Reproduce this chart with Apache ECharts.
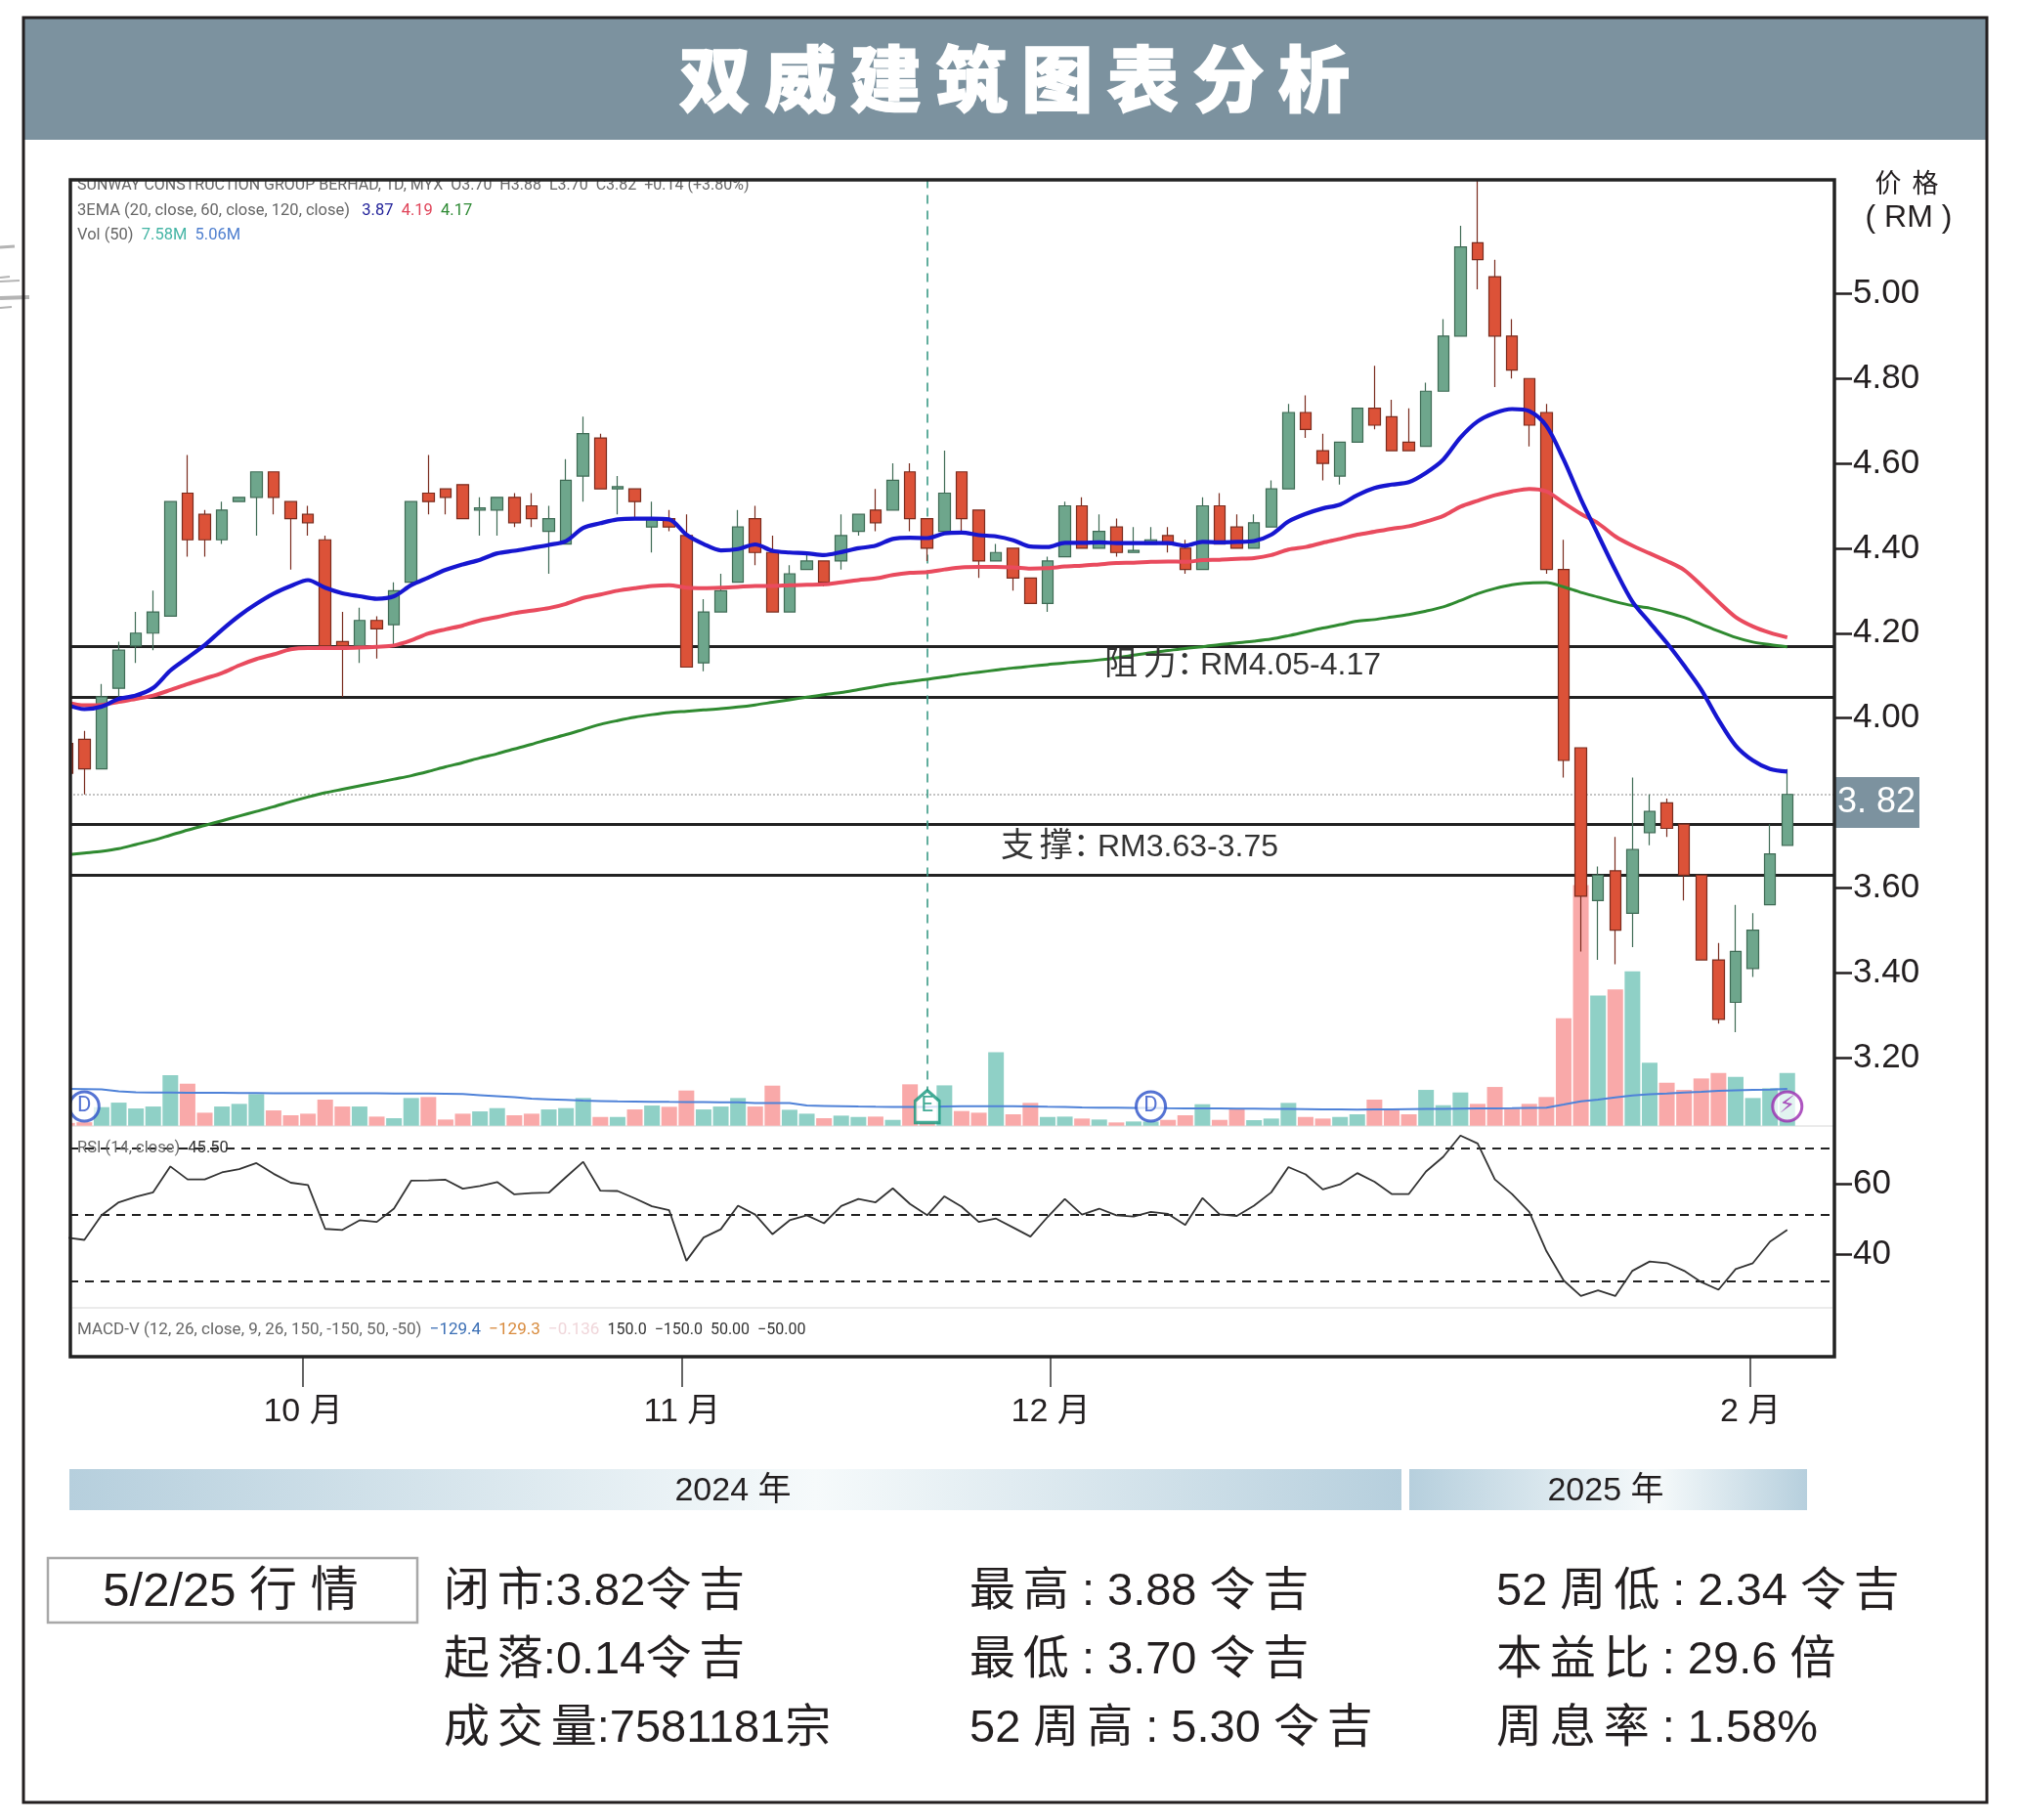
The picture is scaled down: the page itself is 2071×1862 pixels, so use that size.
<!DOCTYPE html>
<html>
<head>
<meta charset="utf-8">
<title>双威建筑图表分析</title>
<script src="https://cdn.jsdelivr.net/npm/echarts@6/dist/echarts.min.js"></script>
<style>
  html, body { margin: 0; padding: 0; background: #fff; }
  #chart { width: 2071px; height: 1862px; }
</style>
</head>
<body>
<div id="chart"></div>
<script>
// values, x is the trading day counted from the left edge
const opens = [3.94,3.95,3.88,4.07,4.17,4.20,4.24,4.53,4.48,4.42,4.51,4.52,4.58,4.51,4.48,4.42,4.18,4.17,4.23,4.22,
  4.32,4.53,4.54,4.55,4.49,4.49,4.52,4.50,4.44,4.41,4.57,4.66,4.54,4.54,4.45,4.47,4.43,4.13,4.25,4.32,
  4.47,4.39,4.25,4.35,4.37,4.37,4.44,4.49,4.49,4.58,4.47,4.44,4.58,4.49,4.37,4.40,4.33,4.27,4.38,4.50,
  4.40,4.45,4.39,4.41,4.43,4.40,4.35,4.50,4.45,4.40,4.45,4.54,4.72,4.63,4.57,4.65,4.73,4.71,4.65,4.64,
  4.77,4.90,5.12,5.04,4.90,4.80,4.72,4.35,3.93,3.57,3.64,3.54,3.73,3.80,3.75,3.63,3.43,3.33,3.41,3.56,3.70]
const closes = [3.87,3.88,4.05,4.16,4.20,4.25,4.51,4.42,4.42,4.49,4.52,4.58,4.52,4.47,4.46,4.17,4.17,4.23,4.21,4.30,
  4.51,4.51,4.52,4.47,4.495,4.52,4.46,4.47,4.47,4.56,4.67,4.54,4.545,4.51,4.47,4.45,4.12,4.25,4.30,4.45,
  4.39,4.25,4.34,4.37,4.32,4.43,4.48,4.46,4.56,4.47,4.40,4.53,4.47,4.37,4.39,4.33,4.27,4.37,4.50,4.40,
  4.44,4.39,4.395,4.42,4.41,4.35,4.50,4.41,4.40,4.46,4.54,4.72,4.68,4.60,4.65,4.73,4.69,4.63,4.63,4.77,
  4.90,5.11,5.08,4.90,4.82,4.69,4.35,3.90,3.58,3.63,3.50,3.69,3.78,3.74,3.63,3.43,3.29,3.45,3.50,3.68,3.82]
const lows = [3.85,3.82,3.88,4.05,4.13,4.16,4.24,4.38,4.38,4.41,4.51,4.43,4.48,4.35,4.43,4.17,4.05,4.13,4.14,4.17,
  4.31,4.48,4.48,4.47,4.43,4.43,4.45,4.45,4.34,4.41,4.51,4.54,4.48,4.47,4.39,4.44,4.12,4.11,4.25,4.32,
  4.36,4.25,4.25,4.35,4.31,4.35,4.43,4.44,4.49,4.44,4.37,4.44,4.44,4.33,4.37,4.30,4.27,4.25,4.38,4.40,
  4.40,4.38,4.39,4.41,4.39,4.34,4.35,4.41,4.40,4.40,4.45,4.54,4.66,4.56,4.55,4.65,4.68,4.63,4.63,4.64,
  4.77,4.90,5.01,4.78,4.80,4.64,4.34,3.86,3.45,3.43,3.42,3.46,3.70,3.72,3.57,3.43,3.28,3.26,3.39,3.56,3.70]
const highs = [3.96,3.97,4.08,4.18,4.25,4.30,4.51,4.62,4.49,4.51,4.52,4.58,4.58,4.51,4.50,4.43,4.25,4.26,4.24,4.32,
  4.51,4.62,4.54,4.55,4.52,4.52,4.53,4.53,4.50,4.61,4.71,4.67,4.57,4.54,4.51,4.49,4.48,4.28,4.34,4.49,
  4.50,4.43,4.36,4.39,4.37,4.48,4.48,4.54,4.60,4.60,4.47,4.63,4.58,4.49,4.41,4.40,4.33,4.38,4.51,4.52,
  4.48,4.47,4.45,4.45,4.45,4.42,4.52,4.53,4.48,4.48,4.56,4.74,4.76,4.67,4.65,4.73,4.83,4.75,4.73,4.79,
  4.94,5.16,5.30,5.08,4.94,4.80,4.74,4.42,3.93,3.65,3.72,3.86,3.82,3.81,3.75,3.63,3.47,3.56,3.54,3.75,3.88]
const ema20 = [4.031,4.021,4.027,4.045,4.053,4.071,4.112,4.142,4.172,4.208,4.241,4.269,4.293,4.311,4.325,4.307,4.294,4.287,4.281,4.287,
  4.313,4.331,4.349,4.362,4.373,4.388,4.394,4.401,4.408,4.417,4.448,4.459,4.468,4.470,4.470,4.468,4.432,4.410,4.395,4.398,
  4.409,4.394,4.390,4.388,4.384,4.391,4.400,4.406,4.422,4.425,4.424,4.435,4.437,4.431,4.428,4.419,4.404,4.403,4.413,4.413,
  4.414,4.412,4.412,4.412,4.412,4.406,4.415,4.414,4.415,4.417,4.432,4.463,4.481,4.494,4.503,4.525,4.542,4.550,4.556,4.578,
  4.609,4.661,4.699,4.719,4.728,4.723,4.688,4.609,4.516,4.432,4.349,4.274,4.225,4.177,4.124,4.067,3.996,3.935,3.900,3.880,3.874]
const ema60 = [4.036,4.030,4.031,4.038,4.045,4.053,4.066,4.080,4.093,4.106,4.124,4.139,4.150,4.162,4.165,4.165,4.165,4.166,4.168,4.171,
  4.183,4.199,4.209,4.218,4.230,4.238,4.247,4.253,4.259,4.269,4.283,4.291,4.300,4.306,4.311,4.313,4.307,4.306,4.307,4.309,
  4.311,4.311,4.313,4.314,4.315,4.320,4.325,4.329,4.337,4.342,4.344,4.350,4.355,4.356,4.356,4.355,4.352,4.353,4.357,4.359,
  4.362,4.365,4.366,4.368,4.369,4.368,4.372,4.373,4.375,4.377,4.384,4.397,4.403,4.413,4.422,4.432,4.439,4.446,4.452,4.463,
  4.476,4.498,4.512,4.525,4.534,4.540,4.534,4.507,4.481,4.459,4.428,4.406,4.388,4.370,4.349,4.313,4.274,4.238,4.216,4.201,4.190]
const ema120 = [3.678,3.682,3.686,3.692,3.702,3.712,3.724,3.736,3.747,3.758,3.769,3.780,3.791,3.803,3.814,3.824,3.832,3.840,3.848,3.856,
  3.864,3.874,3.885,3.895,3.906,3.916,3.927,3.938,3.950,3.961,3.973,3.985,3.994,4.002,4.008,4.013,4.016,4.019,4.022,4.026,
  4.031,4.037,4.043,4.049,4.055,4.060,4.067,4.074,4.081,4.086,4.091,4.097,4.103,4.108,4.113,4.118,4.122,4.126,4.130,4.133,
  4.137,4.142,4.148,4.154,4.159,4.164,4.168,4.173,4.177,4.181,4.186,4.194,4.203,4.212,4.220,4.228,4.232,4.238,4.244,4.252,
  4.262,4.277,4.293,4.305,4.314,4.318,4.319,4.309,4.296,4.285,4.274,4.265,4.259,4.249,4.237,4.221,4.205,4.190,4.179,4.173,4.168]
const volumes = [0.4,0.5,2.67,3.32,2.48,2.76,7.26,6.04,1.87,2.76,3.14,4.54,2.2,1.5,1.73,3.75,2.76,2.76,1.31,1.08,
  3.98,4.12,0.89,1.73,2.06,2.53,1.5,1.73,2.34,2.53,3.98,1.26,1.26,2.34,2.9,2.72,5.06,2.34,2.76,3.98,
  2.76,5.76,2.29,1.73,1.08,1.45,1.26,1.31,0.84,5.95,0.47,5.8,2.11,1.87,10.56,1.64,3.28,1.26,1.31,1.03,
  0.89,0.47,0.61,0.6,0.84,1.5,3.09,0.84,2.48,0.8,1.03,3.28,1.26,1.03,1.26,1.64,3.75,2.34,1.64,5.15,
  2.95,4.78,3.14,5.57,2.43,3.14,4.12,15.45,34.6,18.7,19.6,22.2,9.04,6.18,5.15,6.79,7.58,7.02,3.98,5.38,7.58]
const volumeMa = [5.29,5.27,5.24,4.95,4.8,4.78,4.78,4.75,4.72,4.72,4.7,4.7,4.68,4.68,4.68,4.68,4.66,4.66,4.66,4.64,
  4.64,4.62,4.6,4.55,4.4,4.25,4.1,3.9,3.8,3.7,3.6,3.55,3.5,3.48,3.45,3.42,3.4,3.4,3.38,3.38,
  3.25,3.25,3.25,2.9,2.85,2.8,2.75,2.72,2.7,2.68,2.68,2.78,2.8,2.8,2.8,2.8,2.78,2.72,2.68,2.62,
  2.6,2.58,2.56,2.55,2.52,2.5,2.5,2.48,2.46,2.45,2.42,2.4,2.38,2.36,2.34,2.32,2.34,2.36,2.38,2.4,
  2.42,2.45,2.48,2.5,2.52,2.55,2.58,3.04,3.51,3.75,4.07,4.35,4.54,4.63,4.78,4.87,5.0,5.1,5.15,5.2,5.29]
const rsi = [43.2,42.5,49.9,53.8,55.5,56.8,64.6,60.7,60.7,62.8,63.8,65.6,62.4,59.7,59.0,45.8,45.5,48.4,47.9,51.9,
  60.3,60.4,60.6,57.9,58.7,59.9,56.2,56.6,56.7,61.4,66.0,57.3,57.2,55.0,52.6,51.4,36.2,43.2,45.7,52.8,
  50.1,44.2,48.4,49.9,47.5,52.7,54.8,53.8,58.0,53.3,49.9,55.6,52.5,47.9,48.9,46.2,43.5,49.4,54.8,50.1,
  51.9,49.9,49.5,50.9,50.3,47.0,55.1,50.2,49.7,52.8,56.8,64.4,62.2,57.7,59.2,62.6,60.0,56.3,56.3,63.1,
  67.5,73.9,71.5,60.7,56.3,50.9,39.1,30.3,25.6,27.3,25.6,33.2,36.0,35.5,33.2,29.8,27.5,33.7,35.5,42.0,45.5]

const priceTicks = [5.0, 4.8, 4.6, 4.4, 4.2, 4.0, 3.6, 3.4, 3.2]
const rsiTicks = [60, 40]
const rsiLevels = [70, 50, 30]
const priceLevels = [4.17, 4.05, 3.75, 3.63]
const lastPrice = 3.82
const monthTicks = [13.71, 35.75, 57.18, 97.86]
const monthLabels = ['10 月', '11 月', '12 月', '2 月']
const eventDays = [1, 50, 63, 100]
const eventLabels = ['D', 'E', 'D', '\u26a1']

const legendLine1 = 'SUNWAY CONSTRUCTION GROUP BERHAD, 1D, MYX  O3.70  H3.88  L3.70  C3.82  +0.14 (+3.80%)'
const statsA = ['闭市:3.82令吉', '起落:0.14令吉', '成交量:7581181宗']
const statsB = ['最高 : 3.88 令吉', '最低 : 3.70 令吉', '52 周高 : 5.30 令吉']
const statsC = ['52 周低 : 2.34 令吉', '本益比 : 29.6 倍', '周息率 : 1.58%']

const LATIN = '"Liberation Sans","Noto Sans CJK SC",sans-serif'
const SMALL = 'Roboto,"Noto Sans",sans-serif'
const INK = '#231f20'
const SLATE = '#7c929f'
const UP = '#6ea68c', DOWN = '#dc5238'
const X_MIN = 0.13, X_MAX = 102.74

// hair space between CJK glyphs, the canvas text has no letter spacing
function spaced (s) {
  return s.replace(/([\u4e00-\u9fff])(?=[\u4e00-\u9fff])/g, '$1\u200a\u200a')
}

function text (str, x, y, size, extra) {
  return {
    type: 'text', x: x, y: y, z: 40,
    style: Object.assign({
      text: str, fontSize: size, fontFamily: LATIN, fill: INK,
      textAlign: 'left', textVerticalAlign: 'middle'
    }, extra || {})
  }
}

function yearBar (x, w, whiteAt) {
  return {
    type: 'rect', z: 1, shape: { x: x, y: 1503, width: w, height: 42 },
    style: {
      fill: new echarts.graphic.LinearGradient(0, 0, 1, 0, [
        { offset: 0, color: '#b6cfdd' },
        { offset: whiteAt, color: '#f6fafb' },
        { offset: 1, color: '#b6cfdd' }
      ])
    }
  }
}

function scratch (x2, y, w) {
  return { type: 'line', z: 1, shape: { x1: 0, y1: y, x2: x2, y2: y - 1 }, style: { stroke: '#b4b4b4', lineWidth: w } }
}

const small = { fontFamily: SMALL, fontSize: 16.5, fill: '#666' }
const macdFont = { fontFamily: SMALL, fontSize: 17 }
const rich = {
  g: { fontFamily: SMALL, fontSize: 16.5, fill: '#666' },
  k: { fontFamily: SMALL, fontSize: 16.5, fill: '#333' },
  blue: { fontFamily: SMALL, fontSize: 16.5, fill: '#22229a' },
  red: { fontFamily: SMALL, fontSize: 16.5, fill: '#e0455a' },
  green: { fontFamily: SMALL, fontSize: 16.5, fill: '#2e8a34' },
  teal: { fontFamily: SMALL, fontSize: 16.5, fill: '#45b5a5' },
  volblue: { fontFamily: SMALL, fontSize: 16.5, fill: '#4f7fcf' },
  mg: Object.assign({ fill: '#666' }, macdFont),
  mk: { fontFamily: SMALL, fontSize: 16, fill: '#333' },
  mblue: Object.assign({ fill: '#3b6fb5' }, macdFont),
  orange: Object.assign({ fill: '#d88a3c' }, macdFont),
  pale: Object.assign({ fill: '#f0d6da' }, macdFont)
}

const graphics = [
  { type: 'rect', z: 1, shape: { x: 24, y: 18, width: 2009, height: 125 }, style: { fill: SLATE } },
  { type: 'rect', z: 60, shape: { x: 24, y: 18, width: 2009, height: 1826 }, style: { fill: 'none', stroke: INK, lineWidth: 3 } },
  scratch(15, 253, 3), scratch(10, 284, 2), scratch(20, 288, 2), scratch(30, 305, 4), scratch(12, 315, 2),
  // white strips keep the clipped wick and the first candle inside the plot frame
  { type: 'rect', z: 41, shape: { x: 74, y: 146, width: 1800, height: 37 }, style: { fill: '#fff' } },
  { type: 'rect', z: 41, shape: { x: 40, y: 184, width: 31, height: 970 }, style: { fill: '#fff' } },
  // plot frame and the thin pane separator
  { type: 'rect', z: 50, shape: { x: 72, y: 184, width: 1805, height: 1204 }, style: { fill: 'none', stroke: '#222', lineWidth: 3.5 } },
  { type: 'rect', z: 2, shape: { x: 74, y: 1337, width: 1801, height: 2 }, style: { fill: '#ebebeb' } },
  text('双威建筑图表分析'.split('').join('\u2009'), 1038, 80, 73, {
    fill: '#fff', stroke: '#fff', lineWidth: 1.5, fontWeight: 900, textAlign: 'center', fontFamily: '"Noto Sans CJK SC"'
  }),
  text('价\u2009\u2009格', 1951, 190, 27, { textAlign: 'center' }),
  text('( RM )', 1953, 223, 32, { textAlign: 'center' }),
  // last price tag
  { type: 'rect', z: 39, shape: { x: 1876, y: 795, width: 88, height: 52 }, style: { fill: SLATE } },
  text('3. 82', 1920, 821, 36, { fill: '#fff', textAlign: 'center' }),
  // chart legends
  text(legendLine1, 79, 190, 16, Object.assign({}, small, { fontSize: 16 })),
  text('{g|3EMA (20, close, 60, close, 120, close)}   {blue|3.87}  {red|4.19}  {green|4.17}', 79, 216, 16, Object.assign({ rich: rich }, small)),
  text('{g|Vol (50)}  {teal|7.58M}  {volblue|5.06M}', 79, 241, 16, Object.assign({ rich: rich }, small)),
  text('{g|RSI (14, close)}  {k|45.50}', 79, 1175, 16, Object.assign({ rich: rich }, small)),
  text('{mg|MACD-V (12, 26, close, 9, 26, 150, -150, 50, -50)}  {mblue|\u2212129.4}  {orange|\u2212129.3}  {pale|\u22120.136}  {mk|150.0  \u2212150.0  50.00  \u221250.00}', 79, 1361, 17, Object.assign({ rich: rich }, small)),
  text(spaced('阻力') + '：', 1130, 681, 34, { fill: '#333' }),
  text('RM4.05-4.17', 1228, 681, 32, { fill: '#333' }),
  text(spaced('支撑') + '：', 1024, 867, 34, { fill: '#333' }),
  text('RM3.63-3.75', 1123, 867, 32, { fill: '#333' }),
  // year bars
  yearBar(71, 1363, 0.56),
  yearBar(1442, 407, 0.62),
  text('2024 年', 750, 1526, 34, { textAlign: 'center' }),
  text('2025 年', 1643, 1526, 34, { textAlign: 'center' }),
  // daily stats
  { type: 'rect', z: 1, shape: { x: 49, y: 1594, width: 378, height: 66 }, style: { fill: '#fff', stroke: '#a8a8a8', lineWidth: 2.5 } },
  text('5/2/25 行 情', 236, 1629, 49, { textAlign: 'center' })
]

const statRowsY = [1629, 1699, 1769]
statsA.forEach((s, i) => graphics.push(text(spaced(s), 454, statRowsY[i], 47)))
statsB.forEach((s, i) => graphics.push(text(spaced(s), 992, statRowsY[i], 47)))
statsC.forEach((s, i) => graphics.push(text(spaced(s), 1531, statRowsY[i], 47)))

const candleData = closes.map((c, i) => [i, opens[i], c, lows[i], highs[i]])
const volumeData = volumes.map((v, i) => ({
  value: [i, v],
  itemStyle: { color: closes[i] >= opens[i] ? '#8fd0c6' : '#f9a9a9' }
}))
const withDay = arr => arr.map((v, i) => [i, v])

const eventColors = ['#2b50c8', '#14967c', '#2b50c8', '#9a2bb0']
const eventData = eventDays.map((d, i) => ({
  value: [d, 2.77],
  symbol: eventLabels[i] === 'E' ? 'path://M5 0 L10 4 L10 12 L0 12 L0 4 Z' : 'circle',
  symbolSize: eventLabels[i] === 'E' ? [25, 33] : 30,
  itemStyle: { color: 'rgba(255,255,255,0.92)', borderColor: eventColors[i], borderWidth: 3 },
  label: {
    show: true, position: 'inside', formatter: eventLabels[i], color: eventColors[i],
    fontSize: eventLabels[i] === '\u26a1' ? 24 : 22,
    fontFamily: eventLabels[i] === '\u26a1' ? '"DejaVu Sans"' : SMALL
  }
}))

const xCommon = { type: 'value', min: X_MIN, max: X_MAX, splitLine: { show: false } }

const option = {
  animation: false,
  backgroundColor: '#fff',
  graphic: graphics,
  grid: [
    { left: 71, top: 183.6, width: 1806, height: 968.1 },
    { left: 71, top: 1151.7, width: 1806, height: 236.3 }
  ],
  xAxis: [
    Object.assign({ gridIndex: 0, axisLine: { show: true, onZero: false, lineStyle: { color: '#ebebeb', width: 2 } }, axisTick: { show: false }, axisLabel: { show: false } }, xCommon),
    Object.assign({
      gridIndex: 1,
      axisLine: { show: false, onZero: false },
      axisTick: { show: true, length: 31, customValues: monthTicks, lineStyle: { color: '#333', width: 1.5 } },
      axisLabel: {
        show: true, customValues: monthTicks, margin: 40, color: INK, fontSize: 34, fontFamily: LATIN,
        formatter: v => monthLabels[monthTicks.indexOf(v)]
      }
    }, xCommon)
  ],
  yAxis: [
    {
      type: 'value', gridIndex: 0, position: 'right', min: 3.0394, max: 5.269, splitLine: { show: false },
      axisLine: { show: false },
      axisTick: { show: true, length: 18, customValues: priceTicks, lineStyle: { color: INK, width: 2.5 } },
      axisLabel: { customValues: priceTicks, margin: 19, color: INK, fontSize: 35, fontFamily: LATIN, padding: [2, 0, 0, 0], formatter: v => v.toFixed(2) }
    },
    { type: 'value', gridIndex: 0, min: 0, max: 136, show: false },
    { type: 'value', gridIndex: 1, min: 7.35, max: 76.85, show: false },
    {
      type: 'value', gridIndex: 1, position: 'right', min: 11.04, max: 76.4, splitLine: { show: false },
      axisLine: { show: false },
      axisTick: { show: true, length: 18, customValues: rsiTicks, lineStyle: { color: INK, width: 2.5 } },
      axisLabel: { customValues: rsiTicks, margin: 19, color: INK, fontSize: 35, fontFamily: LATIN }
    }
  ],
  series: [
    {
      name: 'Vol', type: 'bar', xAxisIndex: 0, yAxisIndex: 1, data: volumeData, barWidth: 16, z: 1
    },
    {
      name: 'Vol MA', type: 'line', xAxisIndex: 0, yAxisIndex: 1, data: withDay(volumeMa), showSymbol: false, z: 2,
      lineStyle: { color: '#4f82d8', width: 2 }
    },
    {
      name: 'Price', type: 'candlestick', xAxisIndex: 0, yAxisIndex: 0, data: candleData, barWidth: 12, z: 4,
      itemStyle: { color: UP, color0: DOWN, borderColor: '#3f6b55', borderColor0: '#7a2c1e', borderColorDoji: '#444', borderWidth: 1.2 },
      markLine: {
        silent: true, symbol: 'none', z: 3, label: { show: false },
        data: priceLevels.map(v => ({ yAxis: v, lineStyle: { color: '#222', width: 3, type: 'solid' } }))
          .concat([{ yAxis: lastPrice, lineStyle: { color: '#c4c4c4', width: 2, type: 'dotted' } }])
      }
    },
    {
      name: 'EMA 120', type: 'line', xAxisIndex: 0, yAxisIndex: 0, data: withDay(ema120), showSymbol: false, smooth: 0.3, z: 5,
      lineStyle: { color: '#2f8a30', width: 3 }
    },
    {
      name: 'EMA 60', type: 'line', xAxisIndex: 0, yAxisIndex: 0, data: withDay(ema60), showSymbol: false, smooth: 0.3, z: 5,
      lineStyle: { color: '#e94b5e', width: 4 }
    },
    {
      name: 'EMA 20', type: 'line', xAxisIndex: 0, yAxisIndex: 0, data: withDay(ema20), showSymbol: false, smooth: 0.3, z: 6,
      lineStyle: { color: '#1616d0', width: 4.2 }
    },
    {
      name: 'Events', type: 'scatter', xAxisIndex: 0, yAxisIndex: 1, data: eventData, z: 8,
      markLine: {
        silent: true, symbol: 'none', z: 3, label: { show: false },
        lineStyle: { color: '#3a9a85', width: 1.6, type: [9, 7] },
        data: [[{ xAxis: eventDays[1], yAxis: 136 }, { xAxis: eventDays[1], yAxis: 5 }]]
      }
    },
    {
      name: 'RSI', type: 'line', xAxisIndex: 1, yAxisIndex: 2, data: withDay(rsi), showSymbol: false, z: 5,
      lineStyle: { color: '#333', width: 1.8 },
      markLine: {
        silent: true, symbol: 'none', z: 3, label: { show: false },
        lineStyle: { color: '#222', width: 2, type: [9, 7] },
        data: rsiLevels.map(v => ({ yAxis: v }))
      }
    }
  ]
}

const myChart = echarts.init(document.getElementById('chart'), null, { renderer: 'canvas' })
myChart.setOption(option)
</script>
</body>
</html>
